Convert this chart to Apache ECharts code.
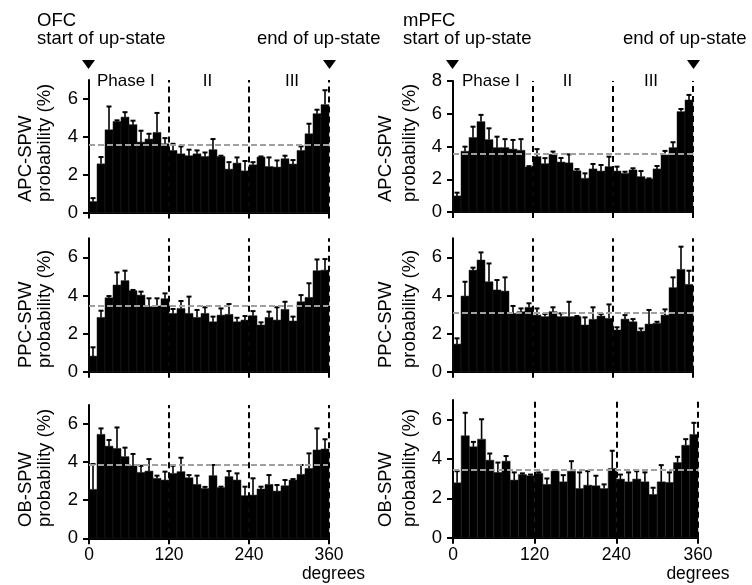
<!DOCTYPE html>
<html>
<head>
<meta charset="utf-8">
<script src="https://cdn.jsdelivr.net/npm/echarts@6/dist/echarts.min.js"></script>
<style>
html,body{margin:0;padding:0;background:#fff;}
#chart{width:752px;height:585px;}
</style>
</head>
<body>
<div id="chart"></div>
<script>
// ---- Data ----
// bin edges (degrees of up-state phase), 12-degree bins
var binEdges = [0,12,24,36,48,60,72,84,96,108,120,132,144,156,168,180,192,204,216,228,240,252,264,276,288,300,312,324,336,348,360];
var xTicks = [0,120,240,360];
var phaseBounds = [120,240,360];

// OFC
var ofcApc = [0.58,2.57,4.37,4.81,5.04,4.64,3.72,3.88,4.23,3.63, 3.28,3.10,3.00,3.10,2.96,3.32,2.96,2.29,2.61,2.20, 2.52,2.93,2.43,2.40,2.84,2.56,3.28,4.16,5.22,5.70];
var ofcApcUpper = [0.76,2.93,5.60,4.87,5.30,4.85,4.32,4.16,5.26,3.93, 3.63,3.49,3.32,3.28,3.17,3.88,3.00,2.66,2.91,2.72, 2.66,2.96,2.91,2.75,3.00,2.77,3.49,4.69,5.43,6.46];
var ofcPpc = [0.82,2.85,3.88,4.55,4.78,4.25,4.02,3.41,3.45,3.83, 3.06,3.32,3.06,2.85,3.06,2.62,2.97,3.01,2.62,2.71, 2.94,2.45,2.85,2.71,3.27,2.66,3.67,3.90,5.30,5.33];
var ofcPpcUpper = [1.28,3.20,3.97,5.21,5.30,4.29,4.20,3.85,3.85,4.11, 3.29,3.71,3.94,3.24,3.38,2.89,3.32,3.55,2.83,2.92, 3.18,2.59,3.15,3.38,3.67,2.89,4.02,4.64,5.89,5.91];
var ofcOb = [2.57,5.46,4.84,4.72,4.29,3.81,3.46,3.53,3.15,3.06, 3.41,3.50,3.18,2.83,2.62,3.29,2.66,3.24,3.06,2.24, 2.27,2.59,2.83,2.48,2.76,3.06,3.36,3.67,4.64,4.69];
var ofcObUpper = [3.90,5.77,5.16,5.82,4.76,4.43,3.81,4.16,3.29,3.50, 3.81,4.23,3.32,3.29,2.70,3.85,2.71,3.53,3.41,2.71, 3.15,2.71,3.32,2.80,3.06,3.11,3.85,4.46,5.77,5.20];
var ofcMeans = [3.58, 3.46, 3.86];

// mPFC
var mpfcApc = [0.98,3.71,4.55,5.52,4.42,3.93,3.93,3.84,3.77,2.75, 3.38,2.95,3.52,3.05,3.00,2.52,2.06,2.63,2.50,2.77, 2.50,2.36,2.57,2.16,2.02,2.63,3.48,3.93,6.13,6.84];
var mpfcApcUpper = [1.18,3.99,5.21,5.93,5.11,4.60,4.45,4.40,4.45,2.80, 3.84,3.29,3.69,3.30,3.52,2.62,2.36,2.93,2.87,3.38, 2.77,2.46,2.67,2.50,2.05,2.81,3.73,4.26,6.29,7.15];
var mpfcPpc = [1.45,3.97,5.33,5.86,4.72,4.29,4.23,3.06,3.15,3.38, 2.97,2.89,3.15,2.89,2.89,2.89,2.45,2.75,2.92,2.80, 2.19,2.76,2.62,2.13,2.50,2.54,2.97,4.41,5.37,4.58];
var mpfcPpcUpper = [1.75,4.72,5.46,6.26,5.68,4.81,4.95,3.45,3.32,3.59, 3.32,3.03,3.38,3.06,3.67,2.92,2.85,3.38,3.03,3.53, 2.33,2.97,2.76,2.27,3.24,2.62,3.27,4.95,6.56,5.30];
var mpfcOb = [2.79,5.18,4.62,5.01,3.94,3.32,3.89,2.93,3.21,3.15, 3.27,2.71,3.38,2.84,3.38,2.50,2.67,2.64,2.50,3.52, 2.98,2.84,2.98,2.84,2.20,2.84,2.81,3.82,4.70,5.25];
var mpfcObUpper = [3.38,6.35,4.87,6.02,4.28,3.82,4.15,3.32,3.27,3.21, 3.32,3.01,3.38,3.18,3.89,3.32,3.38,3.15,2.71,4.42, 3.21,3.32,3.38,3.32,2.54,3.69,3.32,4.11,5.01,5.84];
var mpfcMeans = [3.58, 3.11, 3.47];

var yTicksTop = [0,2,4,6];
var yTicksTopMpfc = [0,2,4,6,8];
var rowNames = ['APC-SPW','PPC-SPW','OB-SPW'];

// ---- Build ----
var FONT = '"Liberation Sans", Arial, Helvetica, sans-serif';
var panels = [
  {vals: ofcApc,  up: ofcApcUpper,  mean: ofcMeans[0],  grid:{left:89, top:80, width:240, height:132.5}, ymax:7, ticks:yTicksTop, bottom:false},
  {vals: mpfcApc, up: mpfcApcUpper, mean: mpfcMeans[0], grid:{left:453, top:81, width:240, height:131}, ymax:8, ticks:yTicksTopMpfc, bottom:false},
  {vals: ofcPpc,  up: ofcPpcUpper,  mean: ofcMeans[1],  grid:{left:89, top:238.3, width:240, height:133.4}, ymax:7, ticks:yTicksTop, bottom:false},
  {vals: mpfcPpc, up: mpfcPpcUpper, mean: mpfcMeans[1], grid:{left:453, top:238.3, width:240, height:133.4}, ymax:7, ticks:yTicksTop, bottom:false},
  {vals: ofcOb,   up: ofcObUpper,   mean: ofcMeans[2],  grid:{left:89, top:405, width:240, height:133.3}, ymax:7, ticks:yTicksTop, bottom:true},
  {vals: mpfcOb,  up: mpfcObUpper,  mean: mpfcMeans[2], grid:{left:453, top:400, width:245, height:137.7}, ymax:7, ticks:yTicksTop, bottom:true}
];

var grids = [], xAxes = [], yAxes = [], series = [];
panels.forEach(function(p, i){
  grids.push(Object.assign({containLabel:false}, p.grid));
  xAxes.push({
    type:'value', gridIndex:i, min:0, max:360, interval:120,
    axisLine:{show:true, onZero:false, lineStyle:{color:'#000', width:2}},
    axisTick:{show:true, length:6, lineStyle:{color:'#000', width:2}},
    axisLabel:{show:p.bottom, color:'#000', fontSize:17.5, fontFamily:FONT, margin:8, customValues: xTicks},
    splitLine:{show:false}
  });
  yAxes.push({
    type:'value', gridIndex:i, min:0, max:p.ymax,
    axisLine:{show:true, lineStyle:{color:'#000', width:2}},
    axisTick:{show:true, length:6, lineStyle:{color:'#000', width:2}, customValues:p.ticks},
    axisLabel:{show:true, color:'#000', fontSize:18.5, fontFamily:FONT, margin:11, customValues:p.ticks},
    splitLine:{show:false}
  });
  var data = p.vals.map(function(v, k){ return [binEdges[k], binEdges[k+1], v, p.up[k]]; });
  series.push({
    type:'custom', xAxisIndex:i, yAxisIndex:i, clip:false, silent:true,
    encode:{x:[0,1], y:[2,3]},
    data:data,
    renderItem:function(params, api){
      var x0 = api.value(0), x1 = api.value(1), v = api.value(2), u = api.value(3);
      var pa = api.coord([x0, 0]);
      var pb = api.coord([x1, v]);
      var xm = (x0 + x1) / 2;
      var pt = api.coord([xm, v]);
      var pu = api.coord([xm, u]);
      return {type:'group', children:[
        {type:'rect', shape:{x:pa[0], y:pb[1], width:pb[0]-pa[0], height:pa[1]-pb[1]},
         style:{fill:'#000', stroke:'#222', lineWidth:0.5}},
        {type:'line', shape:{x1:pt[0], y1:pt[1], x2:pu[0], y2:pu[1]}, style:{stroke:'#000', lineWidth:1.6}},
        {type:'line', shape:{x1:pu[0]-2.5, y1:pu[1], x2:pu[0]+2.5, y2:pu[1]}, style:{stroke:'#000', lineWidth:2}}
      ]};
    },
    markLine:{
      silent:true, symbol:'none', label:{show:false}, animation:false,
      data:[
        {yAxis:p.mean, lineStyle:{color:'#a0a0a0', type:[6,3], width:2.2}},
        {xAxis:phaseBounds[0], lineStyle:{color:'#000', type:[6,4], width:2}},
        {xAxis:phaseBounds[1], lineStyle:{color:'#000', type:[6,4], width:2}},
        {xAxis:phaseBounds[2], lineStyle:{color:'#000', type:[6,4], width:2}}
      ]
    }
  });
});

function txt(text, x, y, opts){
  opts = opts || {};
  return {type:'text', x:x, y:y, rotation:opts.rot||0, silent:true,
    style:{text:text, fill:'#000', font:(opts.size||18.5)+'px '+FONT,
      align:opts.align||'left', verticalAlign:opts.va||'middle'}};
}
function tri(cx){
  return {type:'polygon', silent:true, shape:{points:[[cx-6.5,60],[cx+6.5,60],[cx,69]]}, style:{fill:'#000'}};
}

var graphics = [
  txt('OFC', 37, 21), txt('start of up-state', 37, 39), txt('end of up-state', 257, 39),
  txt('mPFC', 403, 21), txt('start of up-state', 403, 39), txt('end of up-state', 623, 39),
  tri(88.5), tri(329.5), tri(452.5), tri(693.5),
  txt('Phase I', 97, 81, {size:17}), txt('II', 207.5, 81, {size:17, align:'center'}), txt('III', 292, 81, {size:17, align:'center'}),
  txt('Phase I', 462, 81, {size:17}), txt('II', 567.5, 81, {size:17, align:'center'}), txt('III', 651, 81, {size:17, align:'center'}),
  txt('degrees', 333.5, 574, {size:17.5, align:'center'}), txt('degrees', 698, 574, {size:17.5, align:'center'})
];
var labelBottoms = [202, 368, 527];
var colX = [[25.5, 45], [386, 409.5]];
for (var r = 0; r < 3; r++){
  for (var c = 0; c < 2; c++){
    graphics.push(txt(rowNames[r], colX[c][0], labelBottoms[r], {rot:Math.PI/2}));
    graphics.push(txt('probability (%)', colX[c][1], labelBottoms[r], {rot:Math.PI/2}));
  }
}

var chart = echarts.init(document.getElementById('chart'), null, {renderer:'canvas'});
chart.setOption({
  animation:false,
  backgroundColor:'#fff',
  grid:grids, xAxis:xAxes, yAxis:yAxes, series:series,
  graphic:{elements:graphics}
});
</script>
</body>
</html>
